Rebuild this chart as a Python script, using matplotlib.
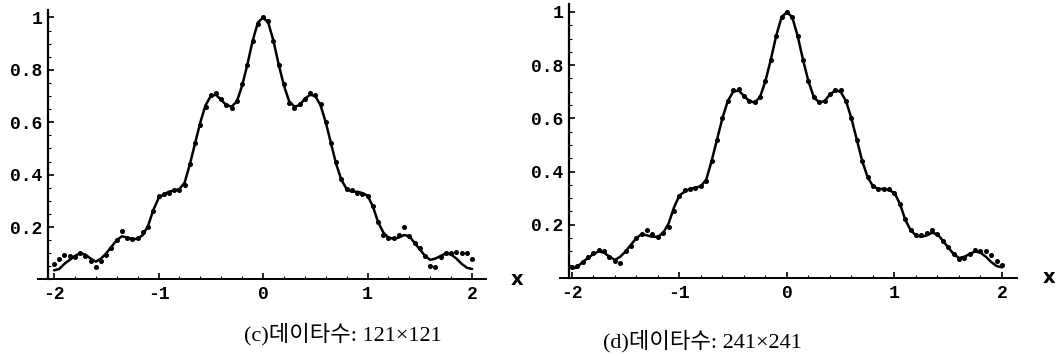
import numpy as np
import matplotlib.pyplot as plt
from matplotlib.ticker import MultipleLocator

# sample positions (step 0.05 from -2 to 2)
x = np.round(np.arange(-2.0, 2.0001, 0.05), 2)

# original profile (solid line)
curve = [0.035, 0.04, 0.06, 0.075, 0.09, 0.10, 0.095, 0.08, 0.068, 0.08,
         0.10, 0.125, 0.15, 0.165, 0.16, 0.155, 0.155, 0.17, 0.205, 0.265,
         0.31, 0.325, 0.335, 0.34, 0.345, 0.37, 0.44, 0.52, 0.60, 0.665,
         0.70, 0.705, 0.685, 0.665, 0.66, 0.68, 0.74, 0.82, 0.91, 0.98,
         1.00,
         0.98, 0.91, 0.82, 0.74, 0.68, 0.66, 0.665, 0.69, 0.705, 0.70,
         0.665, 0.60, 0.52, 0.44, 0.38, 0.345, 0.335, 0.335, 0.33, 0.32,
         0.28, 0.22, 0.18, 0.16, 0.155, 0.16, 0.17, 0.165, 0.14, 0.115,
         0.09, 0.075, 0.08, 0.09, 0.10, 0.095, 0.08, 0.06, 0.045, 0.04]

# reconstructed points, 121 x 121 data
dots_c = [0.06, 0.08, 0.095, 0.09, 0.085, 0.10, 0.09, 0.07, 0.048, 0.07,
          0.093, 0.12, 0.15, 0.185, 0.16, 0.155, 0.16, 0.18, 0.20, 0.26,
          0.32, 0.325, 0.33, 0.34, 0.34, 0.36, 0.44, 0.52, 0.59, 0.66,
          0.705, 0.71, 0.69, 0.665, 0.655, 0.68, 0.745, 0.82, 0.91, 0.975,
          1.00,
          0.985, 0.91, 0.82, 0.745, 0.675, 0.655, 0.67, 0.69, 0.71, 0.705,
          0.67, 0.60, 0.52, 0.45, 0.385, 0.345, 0.34, 0.33, 0.325, 0.32,
          0.28, 0.22, 0.17, 0.16, 0.16, 0.17, 0.20, 0.165, 0.14, 0.12,
          0.09, 0.05, 0.047, 0.085, 0.10, 0.10, 0.105, 0.10, 0.10, 0.077]

# reconstructed points, 241 x 241 data
dots_d = [0.04, 0.045, 0.06, 0.08, 0.095, 0.105, 0.10, 0.08, 0.065, 0.055,
          0.10, 0.12, 0.15, 0.165, 0.18, 0.165, 0.155, 0.17, 0.19, 0.25,
          0.31, 0.33, 0.335, 0.34, 0.345, 0.365, 0.44, 0.52, 0.60, 0.665,
          0.705, 0.71, 0.685, 0.665, 0.66, 0.68, 0.74, 0.82, 0.91, 0.98,
          1.00,
          0.98, 0.91, 0.82, 0.74, 0.68, 0.66, 0.665, 0.69, 0.705, 0.705,
          0.665, 0.60, 0.52, 0.44, 0.38, 0.345, 0.335, 0.335, 0.335, 0.32,
          0.28, 0.22, 0.18, 0.16, 0.16, 0.17, 0.18, 0.165, 0.14, 0.115,
          0.09, 0.07, 0.075, 0.09, 0.105, 0.10, 0.10, 0.085, 0.065, 0.05]

xticks = [-2, -1, 0, 1, 2]
xticklabels = ['-2', '-1', '0', '1', '2']
yticks = [0.2, 0.4, 0.6, 0.8, 1.0]
yticklabels = ['0.2', '0.4', '0.6', '0.8', '1']

captions = ['(c)데이타수: 121×121', '(d)데이타수: 241×241']

fig = plt.figure(figsize=(10.56, 3.57), dpi=100)

# axes placement: [left, bottom, width, height], xlim, y-axis position, caption spot
panels = [
    ([0.0363, 0.2171, 0.4236, 0.756], (-2.15, 2.13), -2.06, dots_c, (0.325, 0.065)),
    ([0.5303, 0.2213, 0.4328, 0.7675], (-2.11, 2.14), -2.03, dots_d, (0.665, 0.045)),
]

tick_font = dict(family='Liberation Mono', weight='bold', size=13)

for i, (pos, xlim, yaxis_x, dots, cap_pos) in enumerate(panels):
    ax = fig.add_axes(pos)
    ax.plot(x, curve, color='black', lw=1.8, solid_capstyle='round')
    ax.plot(x, dots, 'o', color='black', ms=2.6)
    ax.set_xlim(*xlim)
    ax.set_ylim(0, 1.03)

    ax.spines['top'].set_visible(False)
    ax.spines['right'].set_visible(False)
    ax.spines['left'].set_position(('data', yaxis_x))
    ax.spines['left'].set_bounds(0, 1.03)
    ax.spines['left'].set_linewidth(1.6)
    ax.spines['bottom'].set_linewidth(1.4)

    ax.set_xticks(xticks)
    ax.set_xticklabels(xticklabels, fontdict=tick_font)
    ax.set_yticks(yticks)
    ax.set_yticklabels(yticklabels, fontdict=tick_font)
    ax.xaxis.set_minor_locator(MultipleLocator(0.2))
    ax.yaxis.set_minor_locator(MultipleLocator(0.05))
    ax.tick_params(direction='in', length=4, width=1.2, pad=5)
    ax.tick_params(which='minor', direction='in', length=2, width=0.8)
    ax.tick_params(axis='y', pad=4)

    ax.text(xlim[1] + 0.3, 0, 'x', fontsize=14, fontweight='bold',
            family='DejaVu Sans', ha='center', va='center', clip_on=False)

    fig.text(cap_pos[0], cap_pos[1], captions[i],
             fontsize=16, family=['Liberation Serif', 'Noto Sans CJK KR'],
             ha='center', va='center')

fig.savefig('out.png', dpi=100)
